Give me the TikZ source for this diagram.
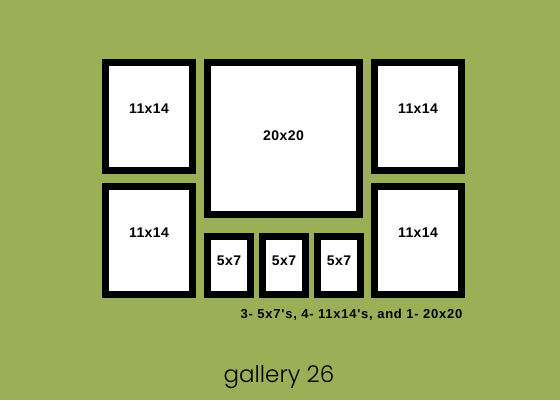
\documentclass[tikz,border=0pt]{standalone}
\usepackage{fontspec}
\setmainfont{Liberation Sans}
\newfontfamily\lblfont[LetterSpace=3]{Liberation Sans Bold}
\newfontfamily\capfont[LetterSpace=6]{Liberation Sans Bold}
\newfontfamily\galfont{Poppins Light}
\definecolor{wallgreen}{RGB}{155,176,86}
\tikzset{
  frame/.style={draw=black, line width=7pt, fill=white, inner sep=0pt},
  tall/.style={frame, minimum width=87pt, minimum height=108pt},
  square/.style={frame, minimum width=152pt, minimum height=152pt},
  small/.style={frame, minimum width=43pt, minimum height=58pt},
  lbl/.style={anchor=base, inner sep=0pt, font=\lblfont\fontsize{14}{16}\selectfont}
}
\begin{document}
\begin{tikzpicture}[x=1pt,y=-1pt]
    \fill[wallgreen] (0,0) rectangle (560,400);
    \useasboundingbox (0,0) rectangle (560,400);
    % frames
    \node[tall] (tl) at (149,116.5) {};
    \node[tall] (bl) at (149,240.5) {};
    \node[square] (big) at (283.5,138.5) {};
    \node[tall] (tr) at (418,116.5) {};
    \node[tall] (br) at (418,240.5) {};
    \node[small] (s1) at (229,265.5) {};
    \node[small] (s2) at (284,265.5) {};
    \node[small] (s3) at (339,265.5) {};
    % sizes
    \node[lbl] (tl-t) at ([yshift=3pt]tl.center) {11x14};
    \node[lbl] (bl-t) at ([yshift=3pt]bl.center) {11x14};
    \node[lbl] (tr-t) at ([yshift=3pt]tr.center) {11x14};
    \node[lbl] (br-t) at ([yshift=3pt]br.center) {11x14};
    \node[lbl] (big-t) at ([yshift=-2pt]big.center) {20x20};
    \node[lbl] (s1-t) at (s1.center) {5x7};
    \node[lbl] (s2-t) at (s2.center) {5x7};
    \node[lbl] (s3-t) at (s3.center) {5x7};
    \node[anchor=base, inner sep=0pt, font=\capfont\fontsize{13}{15}\selectfont]
      (count) at (351.5,318) {3- 5x7's, 4- 11x14's, and 1- 20x20};
    \node[anchor=base, inner sep=0pt, font=\galfont\fontsize{23}{27}\selectfont]
      (title) at (279,382) {gallery 26};
\end{tikzpicture}
\end{document}
